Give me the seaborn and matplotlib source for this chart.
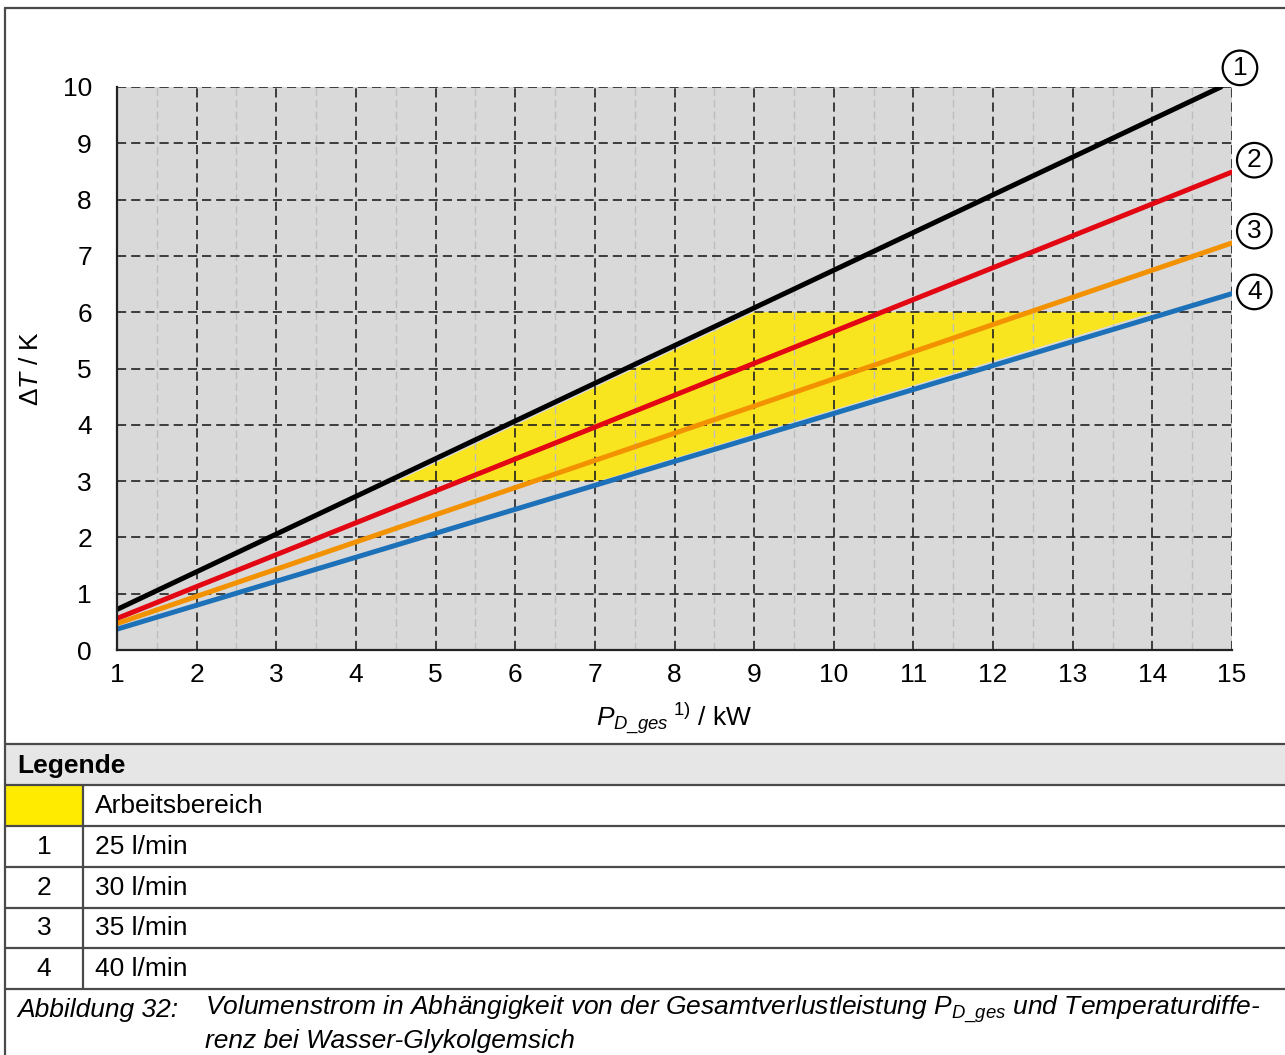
import numpy as np
import pandas as pd
import matplotlib
matplotlib.use("Agg")
import matplotlib.pyplot as plt
from matplotlib.patches import Rectangle, Polygon
import seaborn as sns

# ---------------- data ----------------
curve_ids = ["1", "2", "3", "4"]
flow_labels = ["25 l/min", "30 l/min", "35 l/min", "40 l/min"]
p_start = [1.0, 1.0, 1.0, 1.0]
p_end = [14.86, 15.0, 15.0, 15.0]
dt_start = [0.72, 0.56, 0.47, 0.37]
dt_end = [10.0, 8.49, 7.23, 6.33]
line_colors = ["#000000", "#e30613", "#f39200", "#1d71b8"]

# working area polygon (P, dT)
area_p = [4.52, 7.05, 14.02, 9.0]
area_dt = [3.0, 3.0, 6.0, 6.0]

x_ticks = list(range(1, 16))
y_ticks = list(range(0, 11))

legend_area_label = "Arbeitsbereich"
caption_num = "Abbildung 32:"
caption_line1 = r"Volumenstrom in Abhängigkeit von der Gesamtverlustleistung $P_{D\_ges}$ und Temperaturdiffe-"
caption_line2 = "renz bei Wasser-Glykolgemsich"

# ---------------- style ----------------
sns.set_theme(style="white")
plt.rcParams["font.family"] = ["Liberation Sans", "DejaVu Sans"]
plt.rcParams["mathtext.fontset"] = "custom"
plt.rcParams["mathtext.rm"] = "Liberation Sans"
plt.rcParams["mathtext.it"] = "Liberation Sans:italic"
plt.rcParams["mathtext.bf"] = "Liberation Sans:bold"
plt.rcParams["text.color"] = "black"
plt.rcParams["axes.labelcolor"] = "black"

W, H = 1285, 1055
fig = plt.figure(figsize=(W / 100, H / 100), dpi=100)

# overlay axes in pixel coordinates for frame + legend table
ov = fig.add_axes([0, 0, 1, 1], zorder=0)
ov.set_xlim(0, W)
ov.set_ylim(H, 0)
ov.axis("off")

border = "#4a4a4a"
blw = 1.6
ov.add_patch(Rectangle((5, 744), W - 5, 41, facecolor="#e6e6e6", edgecolor="none"))
ov.add_patch(Rectangle((5, 785), 78, 41, facecolor="#ffeb00", edgecolor="none"))
ov.plot([5, 5], [8, H], color=border, lw=blw)
ov.plot([5, W], [8, 8], color=border, lw=blw)
for yy in [744, 785, 826, 867, 908, 948, 989]:
    ov.plot([5, W], [yy, yy], color=border, lw=blw)
ov.plot([83, 83], [785, 989], color=border, lw=blw)

fs = 19
ov.text(17, 766, "Legende", fontsize=fs, fontweight="bold", va="center", ha="left")
ov.text(95, 806, legend_area_label, fontsize=fs, va="center", ha="left")
row_y = [847, 888, 928, 969]
for cid, lab, yy in zip(curve_ids, flow_labels, row_y):
    ov.text(44, yy, cid, fontsize=fs, va="center", ha="center")
    ov.text(95, yy, lab, fontsize=fs, va="center", ha="left")
ov.text(17, 1010, caption_num, fontsize=fs, style="italic", va="center", ha="left")
ov.text(205, 1010, caption_line1, fontsize=fs, style="italic", va="center", ha="left")
ov.text(205, 1041, caption_line2, fontsize=fs, style="italic", va="center", ha="left")

# ---------------- chart ----------------
ax = fig.add_axes([117 / W, 1 - 650 / H, (1232 - 117) / W, (650 - 87) / H], zorder=1)
ax.set_facecolor("#d9d9d9")

rows = []
for cid, ps, pe, ds, de in zip(curve_ids, p_start, p_end, dt_start, dt_end):
    rows.append({"curve": cid, "P": ps, "dT": ds})
    rows.append({"curve": cid, "P": pe, "dT": de})
df = pd.DataFrame(rows)

ax.add_patch(Polygon(list(zip(area_p, area_dt)), closed=True,
                     facecolor="#f9e51f", edgecolor="none", zorder=1))

ax.set_xlim(1, 15)
ax.set_ylim(0, 10)
ax.set_xticks(x_ticks)
ax.set_yticks(y_ticks)
ax.set_xticks([x + 0.5 for x in x_ticks[:-1]], minor=True)
ax.grid(which="major", color="#222222", linestyle=(0, (5.5, 3)), linewidth=1.2, zorder=2)
ax.grid(which="minor", axis="x", color="#bdbdbd", linestyle=(0, (5.5, 3)), linewidth=1.0, zorder=2)
ax.set_axisbelow(False)

sns.lineplot(data=df, x="P", y="dT", hue="curve", palette=line_colors,
             linewidth=3.6, legend=False, ax=ax, zorder=3)

for s in ["top", "right"]:
    ax.spines[s].set_visible(False)
for s in ["left", "bottom"]:
    ax.spines[s].set_visible(True)
    ax.spines[s].set_color("#222222")
    ax.spines[s].set_linewidth(1.6)
    ax.spines[s].set_zorder(4)

ax.tick_params(axis="both", which="both", length=0, labelsize=fs, colors="black")
ax.tick_params(axis="y", pad=18)
ax.tick_params(axis="x", pad=9)

ax.set_xlabel(r"$\mathit{P}_{\mathit{D\_ges}}$$^{\ \mathit{1)}}$ / kW", fontsize=fs, labelpad=10)
ax.set_ylabel(r"$\Delta\mathit{T}$ / K", fontsize=fs, labelpad=14)

# circled curve numbers
label_pos = [(15.1, 10.34), (15.28, 8.70), (15.28, 7.44), (15.28, 6.36)]
for cid, (px, py) in zip(curve_ids, label_pos):
    ax.text(px, py, cid, fontsize=fs, ha="center", va="center", clip_on=False,
            bbox=dict(boxstyle="circle,pad=0.2", facecolor="white", edgecolor="black", linewidth=1.6))

fig.savefig("out.png", dpi=100)
